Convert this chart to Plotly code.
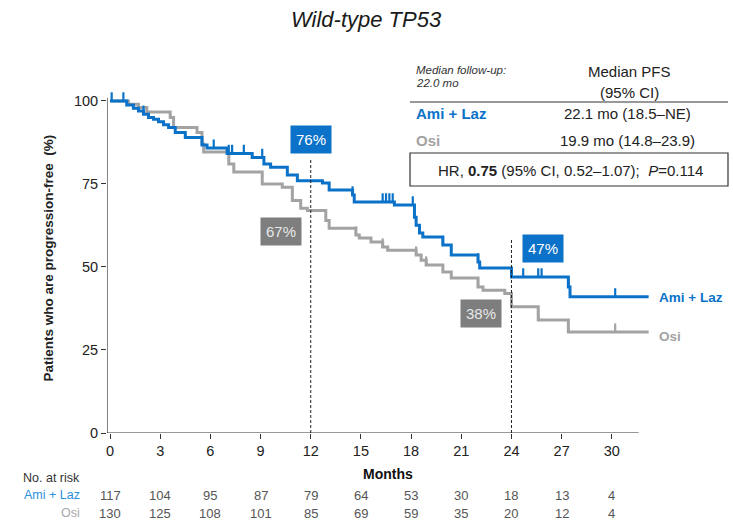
import plotly.graph_objects as go

# ---- data -------------------------------------------------------------
ami_t = [0, 1.0, 1.4, 1.7, 2.0, 2.3, 2.6, 2.9, 3.2, 3.5, 3.9, 4.5, 5.5, 5.8, 7.0, 8.5,
         9.2, 9.6, 10.6, 11.2, 12.7, 13.1, 14.5, 14.6, 17.0, 18.2, 18.3, 18.5, 18.7,
         19.9, 20.4, 22.0, 22.1, 24.0, 27.4, 27.5]
ami_s = [100, 98.8, 97.8, 97, 96, 95, 94.5, 93.7, 92.8, 92, 90.5, 89, 86.7, 85.8, 84.2, 83,
         81, 80, 77.7, 76, 75.3, 73.2, 71.7, 69.6, 68.7, 65, 62.6, 60.2, 59,
         56.6, 53.6, 51.5, 49.7, 47, 44, 41]
ami_cens = [0.1, 0.8, 2.0, 6.2, 7.1, 7.3, 8.0, 9.1, 14.5, 16.3, 16.5, 16.7, 16.9, 18.1,
            19.9, 22.0, 24.7, 25.6, 25.8, 27.4, 30.2]

osi_t = [0, 1.1, 1.7, 2.2, 3.6, 3.8, 5.2, 5.5, 5.6, 7.1, 7.4, 9.1, 10.3, 10.9, 11.4, 11.8,
         12.9, 13.1, 14.7, 14.9, 15.6, 16.3, 16.6, 18.3, 18.6, 18.9, 19.9, 20.4, 22.0,
         22.3, 23.6, 24.0, 25.6, 27.4]
osi_s = [100, 99, 98, 96.7, 95, 92, 90.5, 87, 84.6, 81, 78.6, 75, 74, 70, 67.7, 67,
         64, 61.7, 59.6, 58.7, 57.5, 56, 55, 53.6, 52, 50.6, 48.5, 46.7, 44,
         43, 42, 38, 34, 30.4]
osi_cens = [14.7, 16.3, 18.3, 18.9, 22.0, 25.6, 27.4, 30.2]

t_end = 32.2

months = [0, 3, 6, 9, 12, 15, 18, 21, 24, 27, 30]
risk_ami = [117, 104, 95, 87, 79, 64, 53, 30, 18, 13, 4]
risk_osi = [130, 125, 108, 101, 85, 69, 59, 35, 20, 12, 4]

landmarks = [12, 24]
landmark_ami = [76, 47]
landmark_osi = [67, 38]

# ---- styling ----------------------------------------------------------
BLUE = "#0a72c8"
GREY = "#a3a3a3"
GREY_BOX = "#7e7e7e"
FONT = "Liberation Sans, Arial, sans-serif"

W, H = 733, 525
ML, MR, MT, MB = 107, 79, 88, 92
PW, PH = W - ML - MR, H - MT - MB
X0, X1 = -0.18, 32.52
Y0, Y1 = 0, 103.9


def px(x):
    return (x - ML) / PW


def py(y):
    return (H - MB - y) / PH


def step_xy(t, s, end):
    xs, ys = [], []
    for i, (ti, si) in enumerate(zip(t, s)):
        if i > 0:
            xs.append(ti)
            ys.append(s[i - 1])
        xs.append(ti)
        ys.append(si)
    xs.append(end)
    ys.append(s[-1])
    return xs, ys


def surv_at(t, s, x):
    v = s[0]
    for ti, si in zip(t, s):
        if ti <= x:
            v = si
    return v


def censor_xy(t, s, cens, h=2.6):
    xs, ys = [], []
    for c in cens:
        v = surv_at(t, s, c)
        xs += [c, c, None]
        ys += [v, v + h, None]
    return xs, ys


fig = go.Figure()

for t, s, cens, col in [(osi_t, osi_s, osi_cens, GREY), (ami_t, ami_s, ami_cens, BLUE)]:
    xs, ys = step_xy(t, s, t_end)
    fig.add_trace(go.Scatter(x=xs, y=ys, mode="lines",
                             line=dict(color=col, width=3), hoverinfo="skip"))
    cx, cy = censor_xy(t, s, cens)
    fig.add_trace(go.Scatter(x=cx, y=cy, mode="lines",
                             line=dict(color=col, width=2.2), hoverinfo="skip"))

shapes = []
# axis lines
shapes.append(dict(type="line", xref="x", yref="y", x0=X0, x1=X0, y0=0, y1=101,
                   line=dict(color="#333", width=1.2)))
shapes.append(dict(type="line", xref="x", yref="y", x0=X0, x1=31.6, y0=0, y1=0,
                   line=dict(color="#333", width=1.2)))
# landmark lines
for lm, top in zip(landmarks, [82.6, 58.3]):
    shapes.append(dict(type="line", xref="x", yref="y", x0=lm, x1=lm, y0=0, y1=top,
                       line=dict(color="#222", width=1, dash="3px,2px")))

# table lines
shapes.append(dict(type="line", xref="paper", yref="paper", x0=px(410), x1=px(728),
                   y0=py(102), y1=py(102), line=dict(color="#333", width=1)))
shapes.append(dict(type="rect", xref="paper", yref="paper", x0=px(410), x1=px(728),
                   y0=py(186), y1=py(153), line=dict(color="#333", width=1.2)))

ann = []


def text(x, y, s, size=13, color="#222", xanchor="center", **kw):
    ann.append(dict(x=px(x), y=py(y), xref="paper", yref="paper", text=s, showarrow=False,
                    xanchor=xanchor, yanchor="middle",
                    font=dict(family=FONT, size=size, color=color), **kw))


# title
text(366, 19, "<i>Wild-type TP53</i>", size=22, color="#1a1a1a")

# table
text(414, 70, "<i>Median follow-up:</i>", size=11.5, color="#333", xanchor="left")
text(414, 83, "<i>22.0 mo</i>", size=11.5, color="#333", xanchor="left")
text(629, 72, "Median PFS", size=15)
text(629, 92, "(95% CI)", size=15)
text(414, 113, "<b>Ami + Laz</b>", size=15, color=BLUE, xanchor="left")
text(627, 113, "22.1 mo (18.5\u2013NE)", size=15)
text(414, 140, "<b>Osi</b>", size=15, color=GREY, xanchor="left")
text(627, 140, "19.9 mo (14.8\u201323.9)", size=15)
text(570, 170, "HR, <b>0.75</b> (95% CI, 0.52\u20131.07);  <i>P</i>=0.114", size=15)

# curve labels
text(657, 297, "<b>Ami + Laz</b>", size=13.5, color=BLUE, xanchor="left")
text(657, 336, "<b>Osi</b>", size=13.5, color=GREY, xanchor="left")

# landmark boxes
box_pos_ami = [(12.0, 88.5), (25.9, 55.7)]
box_pos_osi = [(10.2, 60.8), (22.2, 36.1)]
for v, (bx, by) in zip(landmark_ami, box_pos_ami):
    ann.append(dict(x=bx, y=by, xref="x", yref="y", text=f"{v}%", showarrow=False,
                    bgcolor=BLUE, borderpad=5,
                    font=dict(family=FONT, size=15, color="white")))
for v, (bx, by) in zip(landmark_osi, box_pos_osi):
    ann.append(dict(x=bx, y=by, xref="x", yref="y", text=f"{v}%", showarrow=False,
                    bgcolor=GREY_BOX, borderpad=5,
                    font=dict(family=FONT, size=15, color="#e8e8e8")))

# axis titles
text(388, 474, "<b>Months</b>", size=14, color="#111")
ann.append(dict(x=px(38), y=py(258), xref="paper", yref="paper",
                text="<b>Patients who are progression-free  (%)</b>", showarrow=False,
                textangle=-90, font=dict(family=FONT, size=13.5, color="#222")))

# number at risk
text(82, 478, "No. at risk", size=12.5, color="#333", xanchor="right")
text(82, 495, "Ami + Laz", size=12.5, color="#2a8fd8", xanchor="right")
text(82, 513, "Osi", size=12.5, color="#a8a8a8", xanchor="right")
for m, a, o in zip(months, risk_ami, risk_osi):
    ann.append(dict(x=m, y=py(495), xref="x", yref="paper", text=str(a), showarrow=False,
                    yanchor="middle", font=dict(family=FONT, size=13, color="#555")))
    ann.append(dict(x=m, y=py(513), xref="x", yref="paper", text=str(o), showarrow=False,
                    yanchor="middle", font=dict(family=FONT, size=13, color="#555")))

fig.update_layout(
    width=W, height=H,
    margin=dict(l=ML, r=MR, t=MT, b=MB),
    paper_bgcolor="white", plot_bgcolor="white",
    showlegend=False,
    shapes=shapes, annotations=ann,
    xaxis=dict(range=[X0, X1], tickvals=months, ticks="outside", ticklen=5,
               tickcolor="#333", showgrid=False, zeroline=False, showline=False,
               tickfont=dict(family=FONT, size=14.5, color="#222")),
    yaxis=dict(range=[Y0, Y1], tickvals=[0, 25, 50, 75, 100], ticks="outside", ticklen=5,
               tickcolor="#333", showgrid=False, zeroline=False, showline=False,
               tickfont=dict(family=FONT, size=14.5, color="#222")),
)

fig.write_html("out.html")
